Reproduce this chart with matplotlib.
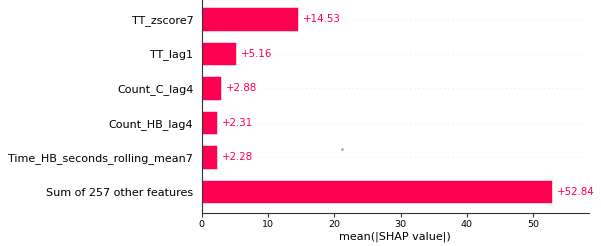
import numpy as np
from matplotlib import pyplot as plt

features = ['TT_zscore7', 'TT_lag1', 'Count_C_lag4', 'Count_HB_lag4',
            'Time_HB_seconds_rolling_mean7', 'Sum of 257 other features']
values = [14.53, 5.16, 2.88, 2.31, 2.28, 52.84]
xticks = [0, 10, 20, 30, 40, 50]

red = '#ff0051'

fig = plt.figure(figsize=(6.01, 2.46), dpi=100)
ax = fig.add_axes([0.3356, 0.134, 0.6444, 0.866])

y = np.arange(len(features), 0, -1)

for i in range(len(features) - 1):
	ax.axhline(y[i], color='#cccccc', lw=0.5, dashes=(1, 5), zorder=-1)

ax.barh(y, values, height=0.68, color=red, edgecolor=(1, 1, 1, 0.8), linewidth=0.5)

for yi, v in zip(y, values):
	ax.text(v + 0.75, yi, '+%.2f' % v, color=red, fontsize=7.4, ha='left', va='center',
		bbox=dict(facecolor='white', edgecolor='none', pad=0.5))

# stray point in the original
ax.plot([21.1], [2.23], marker='.', color='#999999', markersize=1.5)

ax.set_yticks(y)
ax.set_yticklabels(features, fontsize=8)
ax.tick_params(axis='y', length=0, pad=6)
ax.set_xticks(xticks)
ax.tick_params(axis='x', labelsize=6.8, color='#333333', length=3, pad=2)
ax.set_xlabel('mean(|SHAP value|)', fontsize=8, labelpad=2)
ax.set_xlim(0, 58.4)
ax.set_ylim(0.383, 6.55)

ax.spines['top'].set_visible(False)
ax.spines['right'].set_visible(False)
ax.spines['left'].set_color('#333333')
ax.spines['bottom'].set_color('#333333')

plt.savefig('out.png', dpi=100)
plt.close()
